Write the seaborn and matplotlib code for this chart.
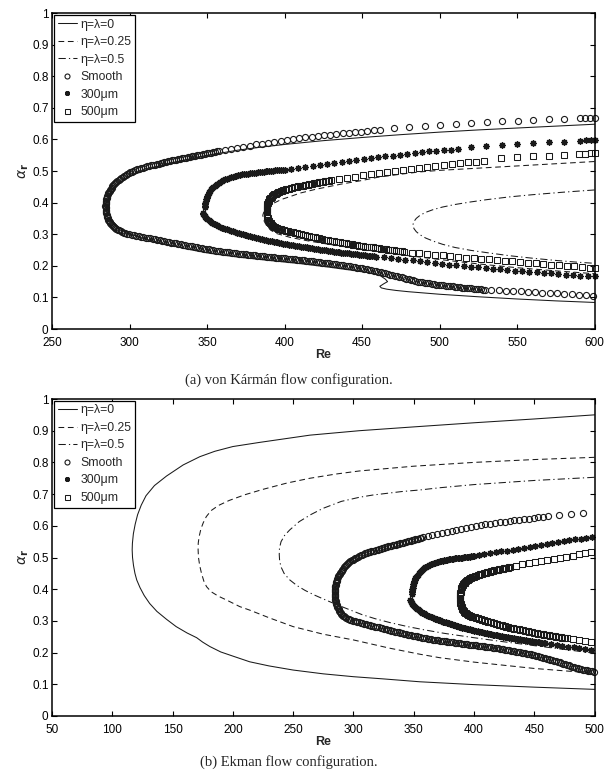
import numpy as np
import matplotlib
matplotlib.use("Agg")
import matplotlib.pyplot as plt
from matplotlib.ticker import FormatStrFormatter, MultipleLocator
import seaborn as sns

# ---------------- neutral curves, von Karman configuration (Re, alpha_r) ----------------
vk_eta0_re = [600, 575, 550, 525, 500, 475, 450, 425, 400, 384, 370, 358, 345, 330, 320, 310, 302, 296, 292, 289.5,
              287.8, 286.7, 286.1, 285.9, 286.2, 286.9, 288.0, 289.6, 291.7, 294.5, 298, 302, 310, 320, 335, 350, 360, 371, 390, 410,
              430, 445, 457, 462, 465, 466.5, 464, 461.5, 462.5, 466, 472, 480, 490, 500, 525, 550, 575, 600]
vk_eta0_a = [0.648, 0.642, 0.636, 0.630, 0.623, 0.615, 0.606, 0.596, 0.584, 0.575, 0.566, 0.556, 0.545, 0.528, 0.517, 0.502, 0.487, 0.472, 0.458, 0.445,
             0.432, 0.419, 0.405, 0.392, 0.378, 0.364, 0.351, 0.339, 0.328, 0.317, 0.307, 0.298, 0.285, 0.272, 0.255, 0.241, 0.234, 0.227, 0.217, 0.207,
             0.195, 0.185, 0.176, 0.168, 0.158, 0.150, 0.143, 0.135, 0.130, 0.126, 0.122, 0.118, 0.114, 0.110, 0.102, 0.095, 0.089, 0.084]

vk_eta25_re = [600, 575, 550, 525, 500, 487, 475, 460, 450, 436, 420, 410, 403.6, 398, 393, 390, 388, 386.5, 386, 386.3,
               387, 388.6, 391, 395, 403.6, 415, 430, 445, 460, 480, 500, 525, 550, 575, 600]
vk_eta25_a = [0.530, 0.523, 0.516, 0.509, 0.502, 0.497, 0.490, 0.480, 0.470, 0.458, 0.442, 0.430, 0.419, 0.410, 0.398, 0.388, 0.378, 0.368, 0.360, 0.350,
              0.340, 0.326, 0.313, 0.302, 0.290, 0.279, 0.267, 0.256, 0.245, 0.232, 0.220, 0.206, 0.194, 0.184, 0.175]

vk_eta50_re = [600, 580, 560, 545, 530, 520, 510, 502, 496, 491, 487.5, 485, 483.5, 482.8, 483.5, 485, 487.5, 491, 496, 502,
               510, 520, 530, 545, 560, 575, 590, 600]
vk_eta50_a = [0.440, 0.433, 0.425, 0.418, 0.409, 0.402, 0.394, 0.386, 0.378, 0.369, 0.360, 0.350, 0.340, 0.329, 0.318, 0.308, 0.298, 0.288, 0.278, 0.268,
              0.258, 0.249, 0.242, 0.232, 0.224, 0.217, 0.211, 0.208]

# ---------------- neutral curves, Ekman configuration (Re, alpha_r) ----------------
ek_eta0_re = [500, 450, 400, 350, 305, 264, 222, 200, 185, 172.6, 158.8, 145, 135, 128, 124, 121, 119, 117.5, 116.7, 116.5,
              116.8, 117.6, 118.8, 120.3, 123, 126.5, 131, 137, 145, 153, 162, 170, 175, 181, 190, 200, 214, 230, 250, 275,
              300, 325, 355, 400, 450, 500]
ek_eta0_a = [0.950, 0.937, 0.925, 0.912, 0.900, 0.886, 0.863, 0.850, 0.835, 0.818, 0.792, 0.757, 0.727, 0.695, 0.665, 0.635, 0.605, 0.575, 0.545, 0.524,
             0.500, 0.475, 0.450, 0.429, 0.405, 0.380, 0.355, 0.330, 0.305, 0.282, 0.262, 0.247, 0.233, 0.219, 0.202, 0.189, 0.171, 0.158, 0.145, 0.133,
             0.124, 0.117, 0.108, 0.099, 0.091, 0.084]

ek_eta25_re = [500, 450, 400, 350, 305, 285, 264, 245, 225, 210, 197, 188, 182, 178, 175.5, 173.5, 172, 171.3, 171.2, 171.5,
               172.5, 174, 176, 178.2, 182, 188, 194.7, 205.8, 214, 230, 250, 275, 300, 330, 355, 371.5, 400, 450, 500]
ek_eta25_a = [0.816, 0.809, 0.800, 0.788, 0.773, 0.763, 0.750, 0.735, 0.715, 0.698, 0.680, 0.664, 0.648, 0.629, 0.610, 0.590, 0.565, 0.545, 0.524, 0.500,
              0.475, 0.450, 0.425, 0.408, 0.392, 0.378, 0.366, 0.345, 0.334, 0.310, 0.282, 0.258, 0.240, 0.214, 0.195, 0.184, 0.170, 0.150, 0.135]

ek_eta50_re = [500, 450, 400, 371.5, 355, 340, 316, 305, 290, 274.8, 265, 255, 247.2, 243, 240, 238.7, 238.5, 238.8, 240, 242.5,
               247, 253, 260, 268, 277, 287, 297, 307, 318, 330, 345, 360, 375, 400, 425, 450, 475, 500]
ek_eta50_a = [0.753, 0.743, 0.730, 0.720, 0.713, 0.708, 0.697, 0.690, 0.677, 0.655, 0.636, 0.613, 0.587, 0.570, 0.550, 0.530, 0.510, 0.490, 0.470, 0.450,
              0.430, 0.412, 0.396, 0.381, 0.366, 0.350, 0.335, 0.320, 0.307, 0.295, 0.282, 0.271, 0.261, 0.247, 0.234, 0.222, 0.210, 0.198]

# ---------------- computed points for the three disc surfaces, (Re, alpha_r) ----------------
smooth_upper = [
    (284.5, 0.390), (284.55, 0.394), (284.6, 0.398), (284.75, 0.402), (284.9, 0.406), (285.1, 0.410), (285.3, 0.414), (285.55, 0.418),
    (285.8, 0.422), (286.1, 0.426), (286.4, 0.430), (286.75, 0.4335), (287.1, 0.437), (287.55, 0.4405), (288.0, 0.444), (288.5, 0.4475),
    (289.0, 0.451), (289.6, 0.4545), (290.2, 0.458), (290.85, 0.4615), (291.5, 0.465), (292.25, 0.4685), (293.0, 0.472), (293.85, 0.4755),
    (294.7, 0.479), (295.6, 0.482), (296.5, 0.485), (297.5, 0.488), (298.5, 0.491), (299.5, 0.4935), (300.5, 0.496), (301.5, 0.498),
    (302.5, 0.500), (303.75, 0.5025), (305.0, 0.505), (306.25, 0.507), (307.5, 0.509), (308.75, 0.511), (310.0, 0.513), (311.25, 0.5145),
    (312.5, 0.516), (313.75, 0.5175), (315.0, 0.519), (316.25, 0.5205), (317.5, 0.522), (318.75, 0.5235), (320.0, 0.525), (321.25, 0.5265),
    (322.5, 0.528), (323.75, 0.5295), (325.0, 0.531), (326.25, 0.5325), (327.5, 0.534), (328.75, 0.535), (330.0, 0.536), (331.25, 0.5375),
    (332.5, 0.539), (333.75, 0.540), (335.0, 0.541), (336.25, 0.5425), (337.5, 0.544), (338.75, 0.545), (340.0, 0.546), (341.25, 0.547),
    (342.5, 0.548), (343.75, 0.5495), (345.0, 0.551), (346.25, 0.552), (347.5, 0.553), (348.75, 0.5545), (350.0, 0.556), (351.25, 0.557),
    (352.5, 0.558), (353.75, 0.5595), (355.0, 0.561), (356.25, 0.5625), (357.5, 0.564),
    (361.5, 0.567), (365.5, 0.570), (369.5, 0.573), (373.5, 0.577), (377.5, 0.580), (381.5, 0.584), (385.5, 0.587), (389.5, 0.590),
    (393.5, 0.593), (397.5, 0.596), (401.5, 0.599), (405.5, 0.602), (409.5, 0.605), (413.5, 0.607), (417.5, 0.609), (421.5, 0.611),
    (425.5, 0.613), (429.5, 0.615), (433.5, 0.617), (437.5, 0.619), (441.5, 0.621), (445.5, 0.623), (449.5, 0.625), (453.5, 0.627),
    (457.5, 0.629), (461.5, 0.631),
    (470.5, 0.635), (480.5, 0.638), (490.5, 0.641), (500.5, 0.645), (510.5, 0.648), (520.5, 0.651), (530.5, 0.654), (540.5, 0.657),
    (550.5, 0.659), (560.5, 0.661), (570.5, 0.663), (580.5, 0.665), (590.5, 0.667), (594.0, 0.668), (597.0, 0.668), (600.0, 0.669),
]

smooth_lower = [
    (284.55, 0.386), (284.6, 0.382), (284.7, 0.378), (284.8, 0.374), (284.95, 0.370), (285.1, 0.366), (285.3, 0.362), (285.5, 0.358),
    (285.8, 0.354), (286.1, 0.350), (286.45, 0.3465), (286.8, 0.343), (287.25, 0.3395), (287.7, 0.336), (288.25, 0.3325), (288.8, 0.329),
    (289.45, 0.326), (290.1, 0.323), (290.85, 0.320), (291.6, 0.317), (292.45, 0.3145), (293.3, 0.312), (294.25, 0.3095), (295.2, 0.307),
    (296.25, 0.305), (297.3, 0.303), (298.4, 0.3015), (299.5, 0.300),
    (301.5, 0.2985), (303, 0.297), (304.5, 0.2955), (306, 0.294), (307.5, 0.2925), (309, 0.291), (310.5, 0.2895), (312, 0.288),
    (313.5, 0.2865), (315, 0.285), (316.5, 0.2836), (318, 0.2822), (319.5, 0.2807), (321, 0.2793), (322.5, 0.2779), (324, 0.2765),
    (325.5, 0.275), (327, 0.2736), (328.5, 0.2722), (330, 0.2708), (331.5, 0.2693), (333, 0.2679), (334.5, 0.2665), (336, 0.2651),
    (337.5, 0.2638), (339, 0.2624), (340.5, 0.2611), (342, 0.2597), (343.5, 0.2584), (345, 0.257), (346.5, 0.2558), (348, 0.2545),
    (349.5, 0.2533), (351, 0.252), (352.5, 0.2508), (354, 0.2495), (355.5, 0.2483), (357, 0.247), (358.5, 0.246), (360, 0.2451),
    (361.5, 0.2441), (363, 0.2431), (364.5, 0.2422), (366, 0.2412), (367.5, 0.2403), (369, 0.2393), (370.5, 0.2383), (372, 0.2375),
    (373.5, 0.2367), (375, 0.2359), (376.5, 0.2351), (378, 0.2343), (379.5, 0.2335), (381, 0.2327), (382.5, 0.2319), (384, 0.2311),
    (385.5, 0.2304), (387, 0.2296), (388.5, 0.2288), (390, 0.228), (391.5, 0.2273), (393, 0.2267), (394.5, 0.226), (396, 0.2253),
    (397.5, 0.2246), (399, 0.224), (400.5, 0.2233), (402, 0.2226), (403.5, 0.2219), (405, 0.2213), (406.5, 0.2206), (408, 0.2199),
    (409.5, 0.2192), (411, 0.2184), (412.5, 0.2175), (414, 0.2166), (415.5, 0.2157), (417, 0.2148), (418.5, 0.2139), (420, 0.213),
    (421.5, 0.2121), (423, 0.2112), (424.5, 0.2103), (426, 0.2094), (427.5, 0.2085), (429, 0.2076), (430.5, 0.2066), (432, 0.2055),
    (433.5, 0.2044), (435, 0.2033), (436.5, 0.2022), (438, 0.2011), (439.5, 0.2), (441, 0.1989), (442.5, 0.1978), (444, 0.1967),
    (445.5, 0.1955), (447, 0.1942), (448.5, 0.1928), (450, 0.1915), (451.5, 0.1902), (453, 0.1888), (454.5, 0.1875), (456, 0.1859),
    (457.5, 0.1843), (459, 0.1826), (460.5, 0.181), (462, 0.1793), (463.5, 0.1777), (465, 0.176), (466.5, 0.1742), (468, 0.1724),
    (469.5, 0.1706), (471, 0.1688), (472.5, 0.167), (474, 0.1652), (475.5, 0.1634), (477, 0.1615), (478.5, 0.1596), (480, 0.1578),
    (481.5, 0.1559), (483, 0.154), (484.5, 0.1521), (486, 0.1503), (487.5, 0.1486), (489, 0.1475), (490.5, 0.1463), (492, 0.1452),
    (493.5, 0.144), (495, 0.1428), (496.5, 0.1417), (498, 0.1405), (499.5, 0.1394), (501, 0.1385), (502.5, 0.1377), (504, 0.1369),
    (505.5, 0.1361), (507, 0.1353), (508.5, 0.1345), (510, 0.1337), (511.5, 0.1329), (513, 0.1321), (514.5, 0.1313), (516, 0.1305),
    (517.5, 0.1298), (519, 0.129), (520.5, 0.1283), (522, 0.1275), (523.5, 0.1268), (525, 0.126), (526.5, 0.1253), (528, 0.1245),
    (529.5, 0.1238),
    (533.5, 0.123), (538.2, 0.122), (542.9, 0.121), (547.6, 0.120), (552.3, 0.119), (557.0, 0.118), (561.7, 0.116), (566.4, 0.115),
    (571.1, 0.114), (575.8, 0.113), (580.5, 0.111), (585.2, 0.110), (589.9, 0.108), (594.6, 0.107), (599.3, 0.105),
]

rough300_upper = [
    (348.5, 0.385), (348.55, 0.390), (348.7, 0.395), (348.9, 0.400), (349.1, 0.405), (349.4, 0.410), (349.7, 0.415), (350.1, 0.420),
    (350.5, 0.425), (351.0, 0.4295), (351.5, 0.434), (352.1, 0.438), (352.7, 0.442), (353.4, 0.446), (354.1, 0.450), (354.9, 0.4535),
    (355.7, 0.457), (356.6, 0.460), (357.5, 0.463), (358.5, 0.466), (359.5, 0.469), (360.6, 0.4715), (361.7, 0.474), (362.85, 0.476),
    (364.0, 0.478), (365.25, 0.480), (366.5, 0.482), (367.75, 0.4835), (369.0, 0.485), (370.25, 0.4865), (371.5, 0.488), (372.75, 0.489),
    (374.0, 0.490), (375.25, 0.491), (376.5, 0.492), (377.75, 0.493), (379.0, 0.494), (380.25, 0.4945), (381.5, 0.495), (382.75, 0.496),
    (384.0, 0.497), (385.25, 0.4975), (386.5, 0.498), (387.75, 0.4985), (389.0, 0.499), (390.25, 0.500), (391.5, 0.501), (392.75, 0.5015),
    (394.0, 0.502), (395.25, 0.5025), (396.5, 0.503), (397.75, 0.5035), (399.0, 0.504), (400.25, 0.5045),
    (404.0, 0.507), (408.7, 0.510), (413.4, 0.513), (418.1, 0.516), (422.8, 0.519), (427.5, 0.522), (432.2, 0.525), (436.9, 0.528),
    (441.6, 0.531), (446.3, 0.534), (451.0, 0.537), (455.7, 0.540), (460.4, 0.543), (465.1, 0.546), (469.8, 0.549), (474.5, 0.552),
    (479.2, 0.554), (483.9, 0.557), (488.6, 0.559), (493.3, 0.562), (498.0, 0.564), (502.7, 0.566), (507.4, 0.568), (512.1, 0.570),
    (520.0, 0.575), (530.0, 0.579), (540.2, 0.582), (550.3, 0.585), (560.4, 0.588), (570.5, 0.591), (580.6, 0.593), (590.7, 0.596),
    (594.5, 0.597), (597.5, 0.597), (600.0, 0.598),
]

rough300_lower = [
    (347.3, 0.366), (347.6, 0.363), (348.0, 0.360), (348.5, 0.357), (349.0, 0.354), (349.6, 0.351), (350.3, 0.348), (351.0, 0.345),
    (351.8, 0.342), (352.6, 0.339), (353.5, 0.336), (354.4, 0.3335), (355.3, 0.331), (356.3, 0.3285), (357.3, 0.326), (358.4, 0.3235),
    (359.5, 0.321), (360.6, 0.319), (361.8, 0.317), (363.0, 0.315), (364.2, 0.313), (365.45, 0.311), (366.7, 0.309), (367.95, 0.307),
    (369.2, 0.305), (370.45, 0.3035), (371.7, 0.302), (372.95, 0.300), (374.2, 0.298), (375.45, 0.2965), (376.7, 0.295), (377.95, 0.2935),
    (379.2, 0.292), (380.45, 0.2905), (381.7, 0.289), (382.95, 0.2875), (384.2, 0.286), (385.45, 0.2845), (386.7, 0.283), (387.95, 0.2815),
    (389.2, 0.280), (390.45, 0.279), (391.7, 0.278), (392.95, 0.2765), (394.2, 0.275), (395.45, 0.274), (396.7, 0.273), (397.95, 0.2715),
    (399.2, 0.270), (400.45, 0.269), (401.7, 0.268), (402.95, 0.267), (404.2, 0.266), (405.45, 0.265), (406.7, 0.264), (407.95, 0.263),
    (409.2, 0.262), (410.45, 0.261), (411.7, 0.260), (412.95, 0.259), (414.2, 0.258), (415.45, 0.257), (416.7, 0.256), (417.95, 0.255),
    (419.2, 0.254), (420.45, 0.253), (421.7, 0.252), (422.95, 0.251), (424.2, 0.250), (425.45, 0.2495), (426.7, 0.249), (427.95, 0.248),
    (429.2, 0.247), (430.45, 0.246), (431.7, 0.245), (432.95, 0.2445), (434.2, 0.244), (435.45, 0.243), (436.7, 0.242), (437.95, 0.2415),
    (439.2, 0.241), (440.45, 0.240), (441.7, 0.239), (442.95, 0.2385), (444.2, 0.238), (445.45, 0.237), (446.7, 0.236), (447.95, 0.2355),
    (449.2, 0.235), (450.45, 0.234), (451.7, 0.233), (452.95, 0.2325), (454.2, 0.232), (455.45, 0.2315), (456.7, 0.231), (457.95, 0.230),
    (459.2, 0.229),
    (463.9, 0.227), (468.6, 0.224), (473.3, 0.222), (478.0, 0.219), (482.7, 0.217), (487.4, 0.214), (492.1, 0.212), (496.8, 0.209),
    (501.5, 0.207), (506.2, 0.204), (510.9, 0.202), (515.6, 0.200), (520.3, 0.197), (525.0, 0.195), (529.7, 0.193), (534.4, 0.191),
    (539.1, 0.189), (543.8, 0.187), (548.5, 0.185), (553.2, 0.183), (557.9, 0.181), (562.6, 0.179), (567.3, 0.177), (572.0, 0.176),
    (576.7, 0.174), (581.4, 0.172), (586.1, 0.171), (590.8, 0.169), (595.5, 0.168), (600.0, 0.167),
]

rough500_upper = [
    (388.5, 0.365), (388.45, 0.369), (388.4, 0.373), (388.45, 0.377), (388.5, 0.381), (388.6, 0.385), (388.7, 0.389), (388.85, 0.3925),
    (389.0, 0.396), (389.25, 0.3995), (389.5, 0.403), (389.85, 0.4065), (390.2, 0.410), (390.65, 0.413), (391.1, 0.416), (391.65, 0.4185),
    (392.2, 0.421), (392.85, 0.4235), (393.5, 0.426), (394.25, 0.428), (395.0, 0.430), (395.8, 0.432), (396.6, 0.434), (397.45, 0.4355),
    (398.3, 0.437), (399.15, 0.4385), (400.0, 0.440), (401.0, 0.4415), (402.0, 0.443), (403.0, 0.4445), (404.0, 0.446), (405.0, 0.447),
    (406.0, 0.448), (407.0, 0.449), (408.0, 0.450), (409.0, 0.451), (410.0, 0.452), (411.0, 0.453), (412.0, 0.454), (413.0, 0.455),
    (414.0, 0.456), (415.0, 0.457), (416.0, 0.458), (417.0, 0.459), (418.0, 0.460), (419.0, 0.461), (420.0, 0.462), (421.0, 0.463),
    (422.0, 0.464), (423.0, 0.4645), (424.0, 0.465), (425.0, 0.466), (426.0, 0.467), (427.0, 0.4675), (428.0, 0.468), (429.0, 0.469),
    (430.0, 0.470),
    (435.0, 0.474), (440.2, 0.478), (445.4, 0.482), (450.6, 0.486), (455.8, 0.489), (461.0, 0.493), (466.2, 0.496), (471.4, 0.500),
    (476.6, 0.503), (481.8, 0.506), (487.0, 0.510), (492.2, 0.513), (497.4, 0.516), (502.6, 0.519), (507.8, 0.522), (513.0, 0.525),
    (518.2, 0.528), (523.4, 0.530), (528.6, 0.533), (539.5, 0.540), (550.0, 0.543), (560.5, 0.546), (570.5, 0.549), (580.5, 0.552),
    (590.0, 0.554), (594.0, 0.555), (597.5, 0.556), (600.0, 0.557),
]

rough500_lower = [
    (388.7, 0.357), (388.9, 0.3535), (389.1, 0.350), (389.4, 0.3465), (389.7, 0.343), (390.1, 0.340), (390.5, 0.337), (391.0, 0.334),
    (391.5, 0.331), (392.1, 0.3285), (392.7, 0.326), (393.4, 0.324), (394.1, 0.322), (394.9, 0.320), (395.7, 0.318), (396.6, 0.3165),
    (397.5, 0.315), (398.5, 0.3138), (399.5, 0.3125), (400.75, 0.311), (402.0, 0.310), (403.25, 0.3085), (404.5, 0.307), (405.75, 0.3055),
    (407.0, 0.304), (408.25, 0.3025), (409.5, 0.301), (410.75, 0.2995), (412.0, 0.298), (413.25, 0.2965), (414.5, 0.295), (415.75, 0.2935),
    (417.0, 0.292), (418.25, 0.291), (419.5, 0.290), (420.75, 0.2885), (422.0, 0.287), (423.25, 0.2855), (424.5, 0.284), (425.75, 0.283),
    (427.0, 0.282), (428.25, 0.2805), (429.5, 0.279), (430.75, 0.278), (432.0, 0.277), (433.25, 0.276), (434.5, 0.275), (435.75, 0.274),
    (437.0, 0.273), (438.25, 0.272), (439.5, 0.271), (440.75, 0.270), (442.0, 0.269), (443.25, 0.268), (444.5, 0.267), (445.75, 0.266),
    (447.0, 0.265), (448.25, 0.264), (449.5, 0.263), (450.75, 0.262), (452.0, 0.261), (453.25, 0.260), (454.5, 0.259), (455.75, 0.2585),
    (457.0, 0.258), (458.25, 0.257), (459.5, 0.256), (460.75, 0.255), (462.0, 0.254), (463.25, 0.2535), (464.5, 0.253), (465.75, 0.252),
    (467.0, 0.251), (468.25, 0.250), (469.5, 0.249), (470.75, 0.2485), (472.0, 0.248), (473.25, 0.247), (474.5, 0.246), (475.75, 0.2455),
    (477.0, 0.245),
    (482, 0.242), (487, 0.239), (492, 0.237), (497, 0.235), (502, 0.233), (507, 0.231), (512, 0.228), (517, 0.226),
    (522, 0.224), (527, 0.222), (532, 0.220), (537, 0.218), (542, 0.216), (547, 0.214), (552, 0.212), (557, 0.210),
    (562, 0.208), (567, 0.206), (572, 0.204), (577, 0.202), (582, 0.200), (587, 0.198), (592, 0.196), (597, 0.194), (600, 0.193),
]

curve_labels = ["η=λ=0", "η=λ=0.25", "η=λ=0.5"]
surface_labels = ["Smooth", "300μm", "500μm"]
captions = ["(a) von Kármán flow configuration.", "(b) Ekman flow configuration."]

# ---------------- styling ----------------
sns.set_theme(style="ticks")
plt.rcParams.update({
    "font.family": ["Liberation Sans", "DejaVu Sans"],
    "axes.linewidth": 1.1,
    "axes.edgecolor": "black",
    "axes.facecolor": "white",
    "xtick.direction": "in",
    "ytick.direction": "in",
    "xtick.top": True,
    "ytick.right": True,
    "xtick.major.size": 3.5,
    "ytick.major.size": 3.5,
    "xtick.major.width": 0.8,
    "ytick.major.width": 0.8,
    "xtick.color": "black",
    "ytick.color": "black",
    "xtick.labelsize": 8.5,
    "ytick.labelsize": 8.5,
    "xtick.major.pad": 5.5,
    "ytick.major.pad": 2.5,
    "mathtext.fontset": "dejavusans",
})

line_styles = ["-", (0, (5.5, 3.5)), (0, (7, 3, 1.2, 3))]
marker_styles = [
    dict(marker="o", markersize=4.4, markerfacecolor="none", markeredgecolor="k", markeredgewidth=0.8),
    dict(marker=(8, 2, 0), markersize=4.6, markerfacecolor="k", markeredgecolor="k", markeredgewidth=1.0),
    dict(marker="s", markersize=3.8, markerfacecolor="none", markeredgecolor="k", markeredgewidth=0.75),
]


def unzip(points):
    re, a = zip(*points)
    return np.array(re), np.array(a)


surfaces = [unzip(smooth_upper + smooth_lower),
            unzip(rough300_upper + rough300_lower),
            unzip(rough500_upper + rough500_lower)]

panels = [
    dict(curves=[(vk_eta0_re, vk_eta0_a), (vk_eta25_re, vk_eta25_a), (vk_eta50_re, vk_eta50_a)],
         xlim=(250, 600), rect=[52 / 615, 1 - 329 / 773, 542.5 / 615, 316 / 773], cap_y=1 - 380 / 773),
    dict(curves=[(ek_eta0_re, ek_eta0_a), (ek_eta25_re, ek_eta25_a), (ek_eta50_re, ek_eta50_a)],
         xlim=(50, 500), rect=[52 / 615, 1 - 716 / 773, 542.5 / 615, 317 / 773], cap_y=1 - 762 / 773),
]

fig = plt.figure(figsize=(6.15, 7.73), dpi=100)

for panel, caption in zip(panels, captions):
    ax = fig.add_axes(panel["rect"])
    for (re, a), ls, lab in zip(panel["curves"], line_styles, curve_labels):
        sns.lineplot(x=re, y=a, ax=ax, sort=False, estimator=None, color="k",
                     linewidth=0.75, linestyle=ls, label=lab)
    xmax = panel["xlim"][1]
    for (re, a), mk, lab in zip(surfaces, marker_styles, surface_labels):
        keep = re <= xmax + 1e-9
        sns.lineplot(x=re[keep], y=a[keep], ax=ax, sort=False, estimator=None, color="k",
                     linestyle="none", label=lab, clip_on=False, **mk)

    ax.set_xlim(*panel["xlim"])
    ax.set_ylim(0, 1)
    ax.xaxis.set_major_locator(MultipleLocator(50))
    ax.yaxis.set_major_locator(MultipleLocator(0.1))
    ax.xaxis.set_major_formatter(FormatStrFormatter("%g"))
    ax.yaxis.set_major_formatter(FormatStrFormatter("%g"))
    ax.grid(False)
    for s in ax.spines.values():
        s.set_visible(True)
        s.set_color("black")
    ax.set_xlabel("Re", fontsize=9, fontweight="bold", labelpad=0)
    ax.set_ylabel(r"$\alpha_\mathbf{r}$", fontsize=10, labelpad=1)

    leg = ax.legend(loc="upper left", fontsize=8.8, handlelength=1.6, handletextpad=0.25,
                    labelspacing=0.45, borderpad=0.3, borderaxespad=0.15, fancybox=False,
                    framealpha=1, edgecolor="black", numpoints=1)
    leg.get_frame().set_linewidth(0.9)
    for h in leg.legend_handles:
        if h.get_marker() not in (None, "None", ""):
            h.set_markersize(3.6)

    fig.text(0.47, panel["cap_y"], caption, ha="center", va="center", fontsize=10.5,
             family=["Liberation Serif", "DejaVu Serif"])

fig.savefig("out.png", dpi=100)
